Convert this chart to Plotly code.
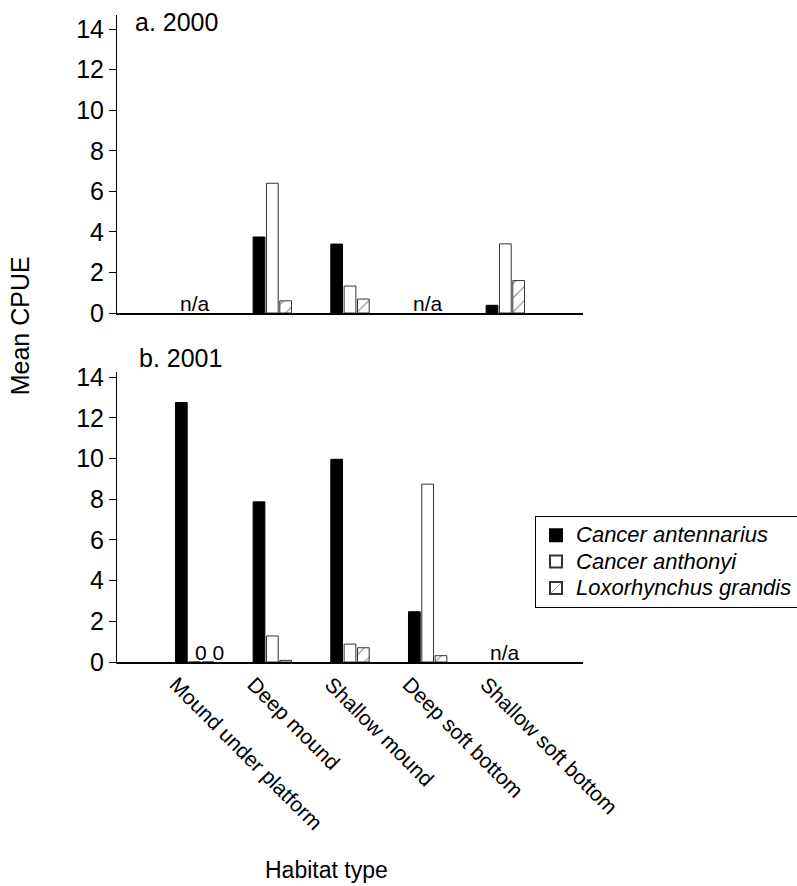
import plotly.graph_objects as go

# Habitat categories along the x axis
habitats = ["Mound under platform", "Deep mound", "Shallow mound",
            "Deep soft bottom", "Shallow soft bottom"]

species = ["Cancer antennarius", "Cancer anthonyi", "Loxorhynchus grandis"]

# Mean CPUE, 2000 (None = habitat not sampled)
cpue_2000_antennarius = [None, 3.75, 3.4, None, 0.38]
cpue_2000_anthonyi = [None, 6.4, 1.33, None, 3.41]
cpue_2000_loxorhynchus = [None, 0.6, 0.69, None, 1.6]

# Mean CPUE, 2001
cpue_2001_antennarius = [12.75, 7.87, 9.96, 2.47, None]
cpue_2001_anthonyi = [0, 1.28, 0.88, 8.74, None]
cpue_2001_loxorhynchus = [0, 0.08, 0.7, 0.31, None]

FONT = "Liberation Sans, Arial, sans-serif"

styles = [
    dict(marker=dict(color="black", line=dict(color="black", width=1))),
    dict(marker=dict(color="white", line=dict(color="#333333", width=1))),
    dict(marker=dict(color="white", line=dict(color="#333333", width=1),
                     pattern=dict(shape="/", fgcolor="black", bgcolor="white",
                                  size=10, solidity=0.1))),
]

fig = go.Figure()

panels = [
    ("x", "y", [cpue_2000_antennarius, cpue_2000_anthonyi, cpue_2000_loxorhynchus], False),
    ("x2", "y2", [cpue_2001_antennarius, cpue_2001_anthonyi, cpue_2001_loxorhynchus], True),
]

for xa, ya, series, show in panels:
    for name, vals, st in zip(species, series, styles):
        fig.add_trace(go.Bar(
            x=habitats, y=vals,
            name=f"<i><span style='font-size:22px'>{name}</span></i>",
            legendgroup=name, showlegend=show, xaxis=xa, yaxis=ya, **st))

annotations = []

# "n/a" labels where a habitat has no data in a panel
for xa, ya, series, _ in panels:
    for i, h in enumerate(habitats):
        if all(s[i] is None for s in series):
            annotations.append(dict(x=h, y=0, xref=xa, yref=ya, text="n/a",
                                    showarrow=False, yanchor="bottom", yshift=-4,
                                    font=dict(family=FONT, size=21, color="black")))

# zero values written above the axis
for i, h in enumerate(habitats):
    zeros = [v for v in (cpue_2001_anthonyi[i], cpue_2001_loxorhynchus[i]) if v == 0]
    if len(zeros) == 2:
        annotations.append(dict(x=h, y=0, xref="x2", yref="y2",
                                text=" ".join(str(z) for z in zeros),
                                showarrow=False, yanchor="bottom", yshift=-4, xshift=15,
                                font=dict(family=FONT, size=21, color="black")))

annotations += [
    dict(x=0.034, y=0.989, xref="paper", yref="paper", text="a. 2000",
         showarrow=False, xanchor="left", yanchor="middle",
         font=dict(family=FONT, size=25, color="black")),
    dict(x=0.043, y=0.470, xref="paper", yref="paper", text="b. 2001",
         showarrow=False, xanchor="left", yanchor="middle",
         font=dict(family=FONT, size=25, color="black")),
    dict(x=-0.208, y=0.519, xref="paper", yref="paper", text="Mean CPUE",
         showarrow=False, textangle=-90, xanchor="center", yanchor="middle",
         font=dict(family=FONT, size=25, color="black")),
    dict(x=0.4506, y=-0.3215, xref="paper", yref="paper", text="Habitat type",
         showarrow=False, xanchor="center", yanchor="middle",
         font=dict(family=FONT, size=23, color="black")),
]

yaxis_common = dict(
    showline=True, linecolor="black", linewidth=1, ticks="outside", ticklen=7,
    tickwidth=1, tickcolor="black", dtick=2, tick0=0, showgrid=False, zeroline=False,
    tickfont=dict(family=FONT, size=25, color="black"), automargin=False,
)
xaxis_common = dict(
    showline=True, linecolor="black", linewidth=2, ticks="", showgrid=False,
    zeroline=False, range=[-1, 5], categoryorder="array", categoryarray=habitats,
    automargin=False,
)

fig.update_layout(
    width=797, height=886,
    margin=dict(l=117, r=214, t=15, b=224, autoexpand=False),
    paper_bgcolor="white", plot_bgcolor="white",
    barmode="group", bargap=0.485, bargroupgap=0.12,
    font=dict(family=FONT, color="black"),
    xaxis=dict(anchor="y", domain=[0, 1], showticklabels=False, **xaxis_common),
    xaxis2=dict(anchor="y2", domain=[0, 1], tickangle=45, ticklabelshift=-19,
                tickfont=dict(family=FONT, size=21, color="black"), **xaxis_common),
    yaxis=dict(anchor="x", domain=[0.5394, 1.0], range=[0, 14.7], **yaxis_common),
    yaxis2=dict(anchor="x2", domain=[0.0, 0.4482], range=[0, 14.25], **yaxis_common),
    legend=dict(x=0.897, y=0.2257, xanchor="left", yanchor="top",
                bordercolor="black", borderwidth=1, bgcolor="white",
                font=dict(family=FONT, size=18, color="black"),
                tracegroupgap=0, itemsizing="constant"),
    annotations=annotations,
)

fig.write_html("out.html")
